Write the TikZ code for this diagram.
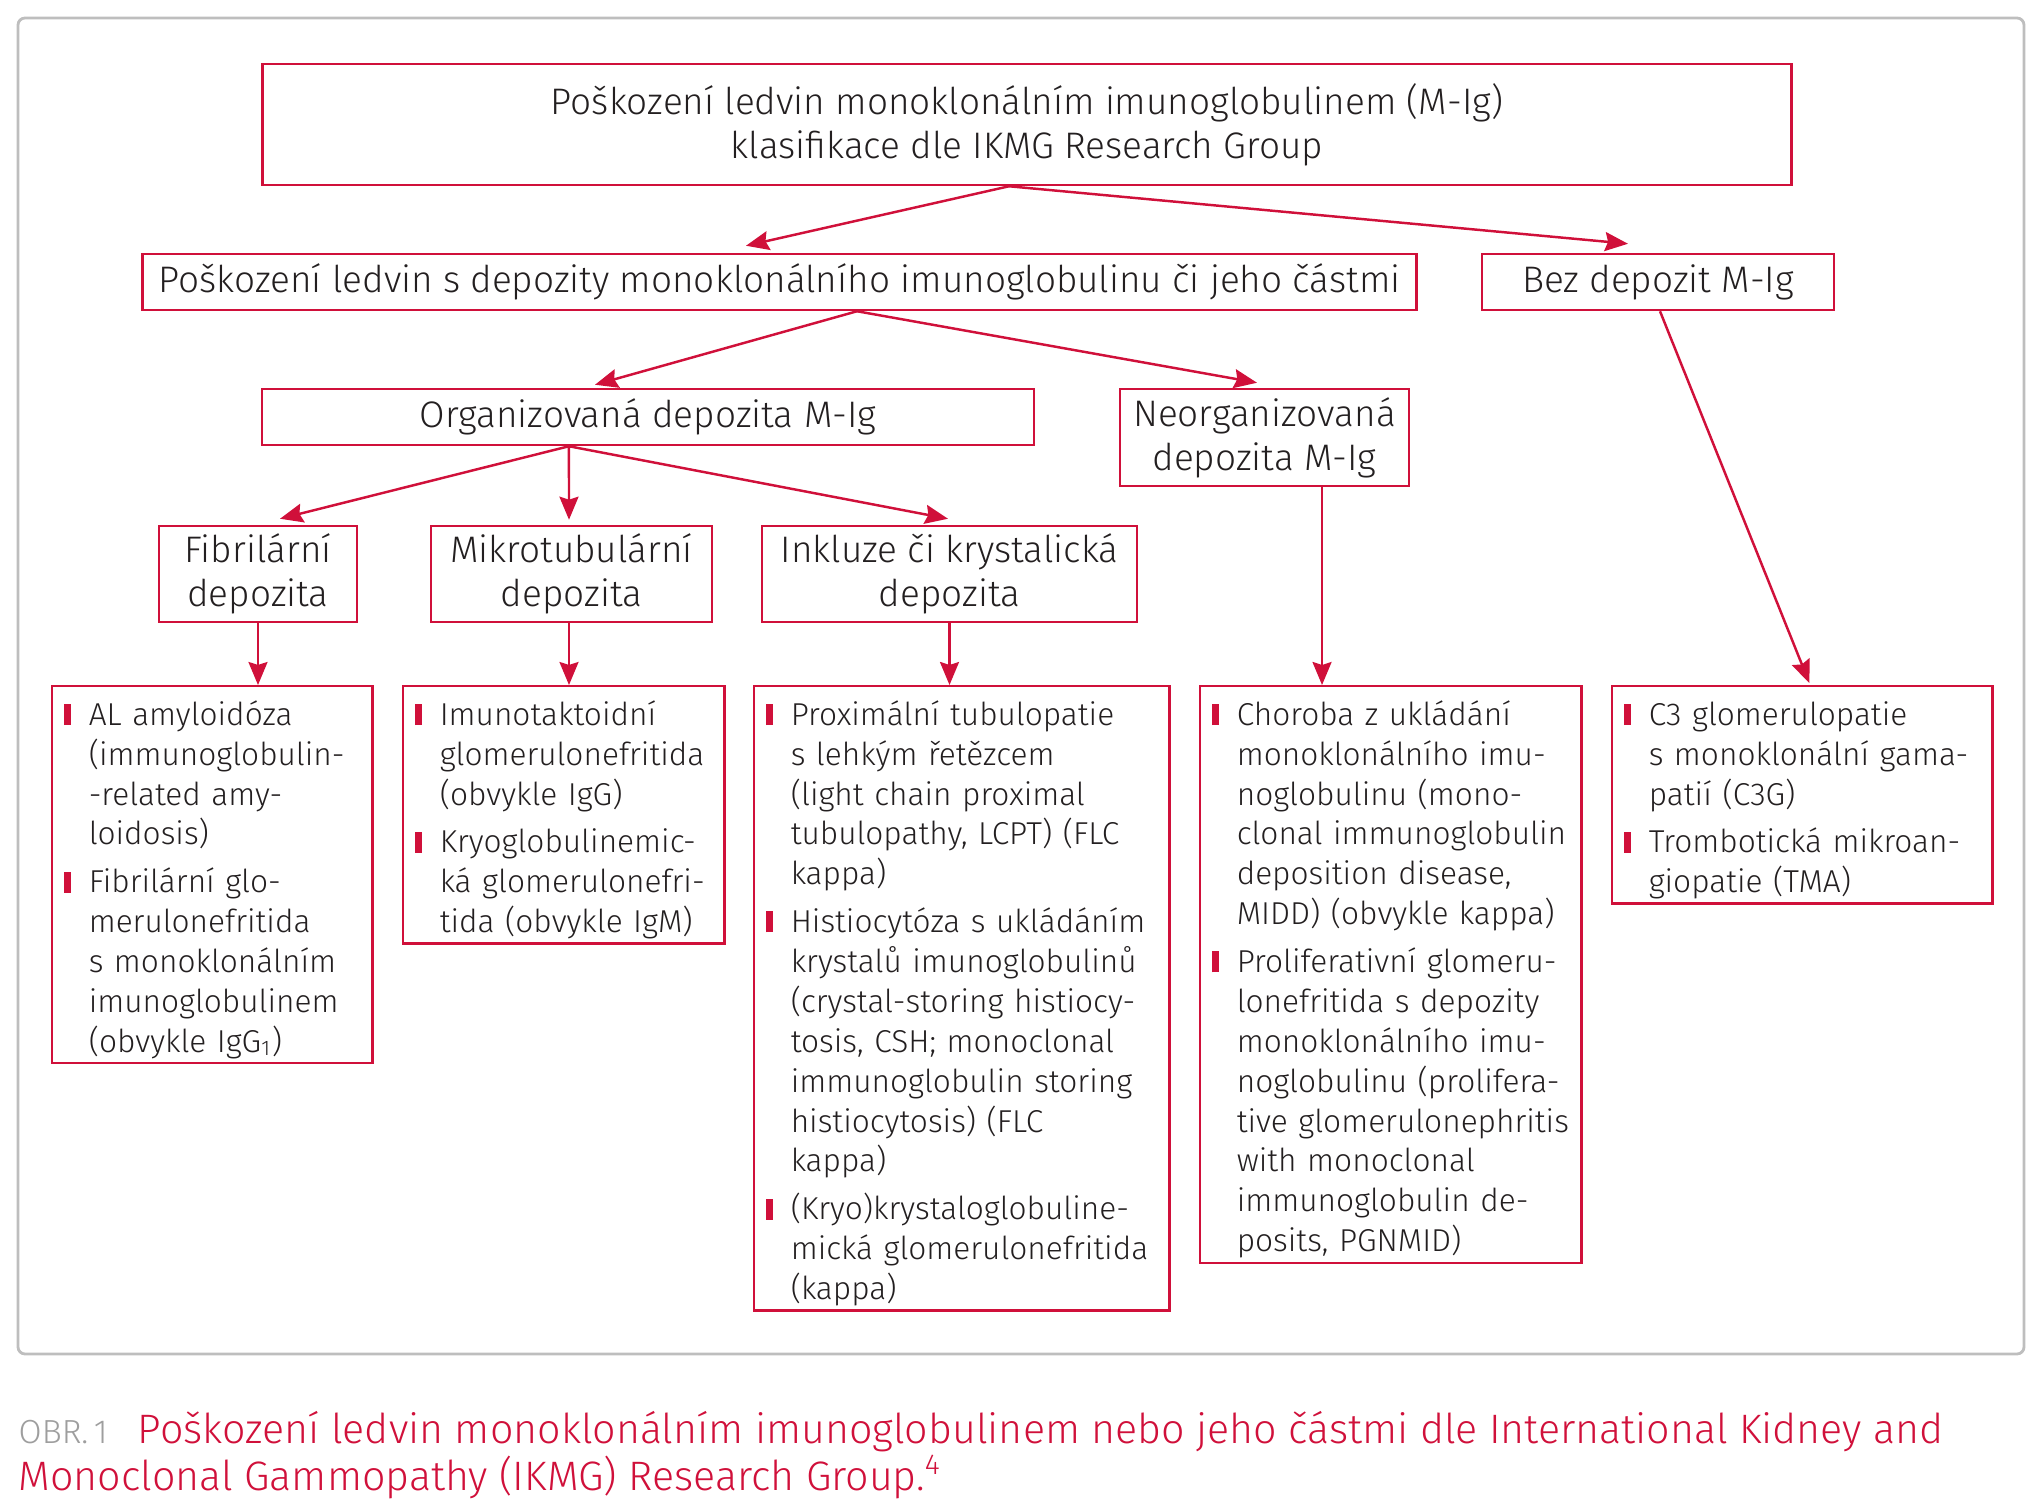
\documentclass[tikz,border=0pt]{standalone}
\usepackage{fontspec}
\setmainfont{Fira Sans Light}
\usetikzlibrary{arrows.meta,positioning}
\definecolor{ikred}{RGB}{208,16,58}
\definecolor{ink}{RGB}{35,31,32}
\definecolor{framegray}{RGB}{190,190,190}
\newcommand{\blt}{\makebox[0.245cm][l]{\textcolor{ikred}{\rule{0.07cm}{0.21cm}}}}
\newcommand{\ind}{\hspace*{0.245cm}}

\begin{document}
\begin{tikzpicture}[x=0.01cm,y=-0.01cm,
    head/.style={rectangle,draw=ikred,line width=0.7pt,align=center,inner sep=0pt,text=ink,font=\fontsize{10.5}{12.6}\selectfont},
    listbox/.style={rectangle,draw=ikred,line width=0.7pt,anchor=north west,inner xsep=0.12cm,inner ysep=0.11cm,text=ink,font=\fontsize{9}{11.35}\selectfont},
    arrow/.style={-{Stealth[length=0.23cm,width=0.19cm,inset=0.03cm]},draw=ikred,line width=0.7pt}]
    \useasboundingbox (0,0) rectangle (2042,1509);
    \draw[framegray,line width=0.8pt,rounded corners=2pt] (18,18) rectangle (2024,1354);
    % headings
    \node[head,minimum width=15.28cm,minimum height=1.21cm] (top) at (1027,124.5) {Poškození ledvin monoklonálním imunoglobulinem (M-Ig)\\klasifikace dle IKMG Research Group};
    \node[head,minimum width=12.73cm,minimum height=0.56cm] (dep) at (779.5,282) {Poškození ledvin s depozity monoklonálního imunoglobulinu či jeho částmi};
    \node[head,minimum width=3.52cm,minimum height=0.56cm] (bez) at (1658,282) {Bez depozit M-Ig};
    \node[head,minimum width=7.72cm,minimum height=0.56cm] (org) at (648,417) {Organizovaná depozita M-Ig};
    \node[head,minimum width=2.89cm,minimum height=0.97cm] (neorg) at (1264.5,437.5) {Neorganizovaná\\depozita M-Ig};
    \node[head,minimum width=1.98cm,minimum height=0.96cm] (fib) at (258,574) {Fibrilární\\depozita};
    \node[head,minimum width=2.81cm,minimum height=0.96cm] (mik) at (571.5,574) {Mikrotubulární\\depozita};
    \node[head,minimum width=3.75cm,minimum height=0.96cm] (ink) at (949.5,574) {Inkluze či krystalická\\depozita};
    % lists
    \node[listbox,text width=2.96cm] (l1) at (51,685) {\begin{tabular}{@{}l@{}}
        \blt AL amyloidóza\\ \ind (immunoglobulin-\\ \ind -related amy-\\ \ind loidosis)\\[2.2pt]
        \blt Fibrilární glo-\\ \ind merulonefritida\\ \ind s monoklonálním\\ \ind imunoglobulinem\\ \ind (obvykle IgG\textsubscript{1})\\[-0.12cm]
        \end{tabular}};
    \node[listbox,text width=2.97cm] (l2) at (402,685) {\begin{tabular}{@{}l@{}}
        \blt Imunotaktoidní\\ \ind glomerulonefritida\\ \ind (obvykle IgG)\\[2.2pt]
        \blt Kryoglobulinemic-\\ \ind ká glomerulonefri-\\ \ind tida (obvykle IgM)\\[-0.12cm]
        \end{tabular}};
    \node[listbox,text width=3.91cm] (l3) at (753,685) {\begin{tabular}{@{}l@{}}
        \blt Proximální tubulopatie\\ \ind s lehkým řetězcem\\ \ind (light chain proximal\\ \ind tubulopathy, LCPT) (FLC\\ \ind kappa)\\[2.2pt]
        \blt Histiocytóza s ukládáním\\ \ind krystalů imunoglobulinů\\ \ind (crystal-storing histiocy-\\ \ind tosis, CSH; monoclonal\\ \ind immunoglobulin storing\\ \ind histiocytosis) (FLC\\ \ind kappa)\\[2.2pt]
        \blt (Kryo)krystaloglobuline-\\ \ind mická glomerulonefritida\\ \ind (kappa)\\[-0.12cm]
        \end{tabular}};
    \node[listbox,text width=3.57cm] (l4) at (1199,685) {\begin{tabular}{@{}l@{}}
        \blt Choroba z ukládání\\ \ind monoklonálního imu-\\ \ind noglobulinu (mono-\\ \ind clonal immunoglobulin\\ \ind deposition disease,\\ \ind MIDD) (obvykle kappa)\\[2.2pt]
        \blt Proliferativní glomeru-\\ \ind lonefritida s depozity\\ \ind monoklonálního imu-\\ \ind noglobulinu (prolifera-\\ \ind tive glomerulonephritis\\ \ind with monoclonal\\ \ind immunoglobulin de-\\ \ind posits, PGNMID)\\[-0.12cm]
        \end{tabular}};
    \node[listbox,text width=3.56cm] (l5) at (1611,685) {\begin{tabular}{@{}l@{}}
        \blt C3 glomerulopatie\\ \ind s monoklonální gama-\\ \ind patií (C3G)\\[2.2pt]
        \blt Trombotická mikroan-\\ \ind giopatie (TMA)\\[-0.12cm]
        \end{tabular}};
    % arrows
    \draw[arrow] ([xshift=-0.18cm]top.south) -- ([xshift=-0.335cm,yshift=0.07cm]dep.north);
    \draw[arrow] ([xshift=-0.18cm]top.south) -- ([xshift=-0.30cm,yshift=0.09cm]bez.north);
    \draw[arrow] ([xshift=0.775cm]dep.south) -- ([xshift=-0.53cm,yshift=0.03cm]org.north);
    \draw[arrow] ([xshift=0.775cm]dep.south) -- ([xshift=-0.075cm,yshift=0.05cm]neorg.north);
    \draw[arrow] ([xshift=-0.79cm]org.south) -- ([xshift=0.22cm,yshift=0.06cm]fib.north);
    \draw[arrow] ([xshift=-0.79cm]org.south) -- ([xshift=-0.025cm,yshift=0.05cm]mik.north);
    \draw[arrow] ([xshift=-0.79cm]org.south) -- ([xshift=-0.015cm,yshift=0.06cm]ink.north);
    \draw[arrow] (fib.south) -- (fib.south |- l1.north);
    \draw[arrow] ([xshift=-0.025cm]mik.south) -- ([xshift=-0.025cm]mik.south |- l2.north);
    \draw[arrow] (ink.south) -- (ink.south |- l3.north);
    \draw[arrow] ([xshift=0.575cm]neorg.south) -- ([xshift=0.575cm]neorg.south |- l4.north);
    \draw[arrow] ([xshift=0.02cm]bez.south) -- ([xshift=0.07cm,yshift=0.02cm]l5.north);
    % caption
    \node[anchor=base west,inner sep=0pt,align=left,font=\fontsize{11.7}{13.3}\selectfont] (cap) at (18,1490)
        {{\color{black!38}\fontsize{9.5}{10}\selectfont OBR.\,1}\hspace{0.3cm}\textcolor{ikred}{Poškození ledvin monoklonálním imunoglobulinem nebo jeho částmi dle International Kidney and}\\
        \textcolor{ikred}{Monoclonal Gammopathy (IKMG) Research Group.\textsuperscript{4}}};
\end{tikzpicture}
\end{document}
